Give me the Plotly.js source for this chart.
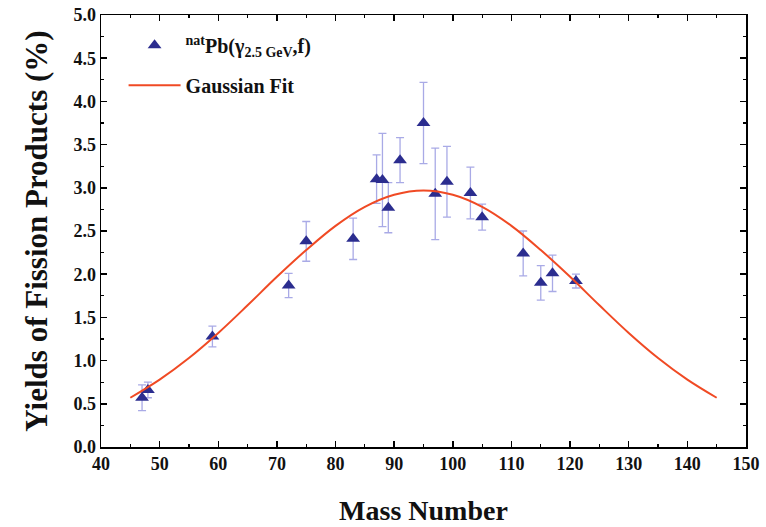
<!DOCTYPE html>
<html>
<head>
<meta charset="utf-8">
<script src="https://cdn.plot.ly/plotly-3.0.1.min.js"></script>
<style>html,body{margin:0;padding:0;background:#fff;}#chart{width:766px;height:527px;}</style>
</head>
<body>
<div id="chart"></div>
<script>
// Measured fission product yields (natPb(gamma 2.5 GeV, f))
const massNumber = [47, 48, 59, 72, 75, 83, 87, 88, 89, 91, 95, 97, 99, 103, 105, 112, 115, 117, 121];
const yieldPct   = [0.57, 0.66, 1.28, 1.87, 2.38, 2.41, 3.10, 3.09, 2.77, 3.32, 3.75, 2.93, 3.07, 2.94, 2.66, 2.24, 1.90, 2.01, 1.92];
const yieldErr   = [0.15, 0.09, 0.12, 0.14, 0.23, 0.24, 0.28, 0.54, 0.29, 0.26, 0.47, 0.53, 0.41, 0.30, 0.15, 0.26, 0.20, 0.21, 0.08];

// Gaussian fit curve
const fitMass  = [45, 50, 55, 60, 65, 70, 75, 80, 85, 90, 95, 100, 105, 110, 115, 120, 125, 130, 135, 140, 145];
const fitYield = [0.57, 0.78, 1.03, 1.32, 1.64, 1.97, 2.28, 2.56, 2.78, 2.92, 2.97, 2.92, 2.78, 2.56, 2.28, 1.97, 1.64, 1.32, 1.03, 0.78, 0.57];

const xTicks = [40, 50, 60, 70, 80, 90, 100, 110, 120, 130, 140, 150];
const yTicks = [0, 0.5, 1, 1.5, 2, 2.5, 3, 3.5, 4, 4.5, 5];

const serif = "Liberation Serif, Times New Roman, serif";

const traces = [
  {
    x: massNumber, y: yieldPct, type: 'scatter', mode: 'markers',
    name: '<sup>nat</sup>Pb(γ<sub>2.5 GeV</sub>,f)', legendgroup: 'a',
    marker: {symbol: 'triangle-up', size: 12, color: '#2b2d8f'},
    error_y: {type: 'data', array: yieldErr, visible: true, color: '#a9aae6', thickness: 1.3, width: 4}
  },
  {
    x: fitMass, y: fitYield, type: 'scatter', mode: 'lines',
    name: 'Gaussian Fit', legendgroup: 'b',
    line: {color: '#f04a24', width: 2, shape: 'spline'}
  }
];

const axisCommon = {
  showline: true, mirror: 'ticks', linecolor: '#000', linewidth: 1.5,
  ticks: 'inside', ticklen: 6, tickwidth: 1.5, tickcolor: '#000',
  showgrid: false, zeroline: false,
  tickfont: {family: serif, size: 18, color: '#111', weight: 'bold'}
};

const layout = {
  width: 766, height: 527,
  margin: {l: 101, r: 20, t: 15, b: 80},
  paper_bgcolor: '#fff', plot_bgcolor: '#fff',
  showlegend: true,
  legend: {x: 0.035, y: 0.975, xanchor: 'left', yanchor: 'top', bgcolor: 'rgba(0,0,0,0)',
           itemwidth: 52, traceorder: 'grouped', tracegroupgap: 11,
           font: {family: serif, size: 20, color: '#111', weight: 'bold'}},
  xaxis: Object.assign({}, axisCommon, {
    range: [40, 150], tickvals: xTicks, ticktext: xTicks.map(String),
    minor: {dtick: 5, tick0: 40, ticks: 'inside', ticklen: 3, tickwidth: 1.2, tickcolor: '#000'},
    title: {text: 'Mass Number', standoff: 27, font: {family: serif, size: 28, color: '#111', weight: 'bold'}}
  }),
  yaxis: Object.assign({}, axisCommon, {
    range: [0, 5], tickvals: yTicks, ticktext: yTicks.map(v => v.toFixed(1)),
    minor: {dtick: 0.25, tick0: 0, ticks: 'inside', ticklen: 3, tickwidth: 1.2, tickcolor: '#000'},
    title: {text: 'Yields of Fission Products (%)', standoff: 16, font: {family: serif, size: 31, color: '#111', weight: 'bold'}}
  })
};

Plotly.newPlot('chart', traces, layout, {displayModeBar: false, staticPlot: true});
</script>
</body>
</html>
